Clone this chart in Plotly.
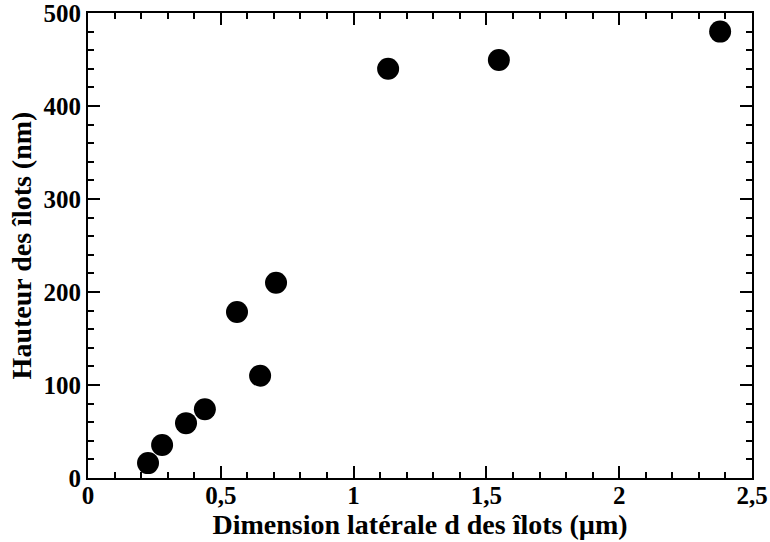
import plotly.graph_objects as go

x_vals = [0.226, 0.279, 0.369, 0.44, 0.561, 0.648, 0.708, 1.13, 1.547, 2.38]
y_vals = [16, 35.5, 59, 74, 178.5, 110, 210, 440, 449.5, 480]

x_ticks = [0, 0.5, 1, 1.5, 2, 2.5]
x_ticktext = ["0", "0,5", "1", "1,5", "2", "2,5"]
y_ticks = [0, 100, 200, 300, 400, 500]
y_ticktext = ["0", "100", "200", "300", "400", "500"]

font_family = "Liberation Serif"

fig = go.Figure()
fig.add_trace(go.Scatter(
    x=x_vals, y=y_vals, mode="markers",
    marker=dict(color="black", size=22, line=dict(width=0)),
    showlegend=False,
))

axis_common = dict(
    showline=True, linewidth=2, linecolor="black", mirror="ticks",
    ticks="inside", ticklen=12, tickwidth=2, tickcolor="black",
    showgrid=False, zeroline=False, automargin=False,
    ticklabeloverflow="allow",
    tickfont=dict(family=font_family, size=25, color="black", weight="bold"),
)

fig.update_xaxes(
    range=[0, 2.5], tickvals=x_ticks, ticktext=x_ticktext,
    minor=dict(ticks="inside", ticklen=6, tickwidth=2, tickcolor="black", dtick=0.1, showgrid=False),
    title=dict(text="<b>Dimension latérale d des îlots (µm)</b>",
               font=dict(family=font_family, size=28, color="black"), standoff=4),
    ticklabelstandoff=-6,
    **axis_common,
)
fig.update_yaxes(
    range=[0, 500], tickvals=y_ticks, ticktext=y_ticktext,
    minor=dict(ticks="inside", ticklen=6, tickwidth=2, tickcolor="black", dtick=20, showgrid=False),
    title=dict(text="<b>Hauteur des îlots (nm)</b>",
               font=dict(family=font_family, size=28, color="black"), standoff=4),
    **axis_common,
)

fig.update_layout(
    width=770, height=542,
    margin=dict(l=88, r=18, t=13, b=64),
    paper_bgcolor="white", plot_bgcolor="white",
    font=dict(family=font_family, size=25, color="black", weight="bold"),
)

fig.write_html("out.html", config={"displayModeBar": False},
               post_script="document.body.style.margin='0';")
